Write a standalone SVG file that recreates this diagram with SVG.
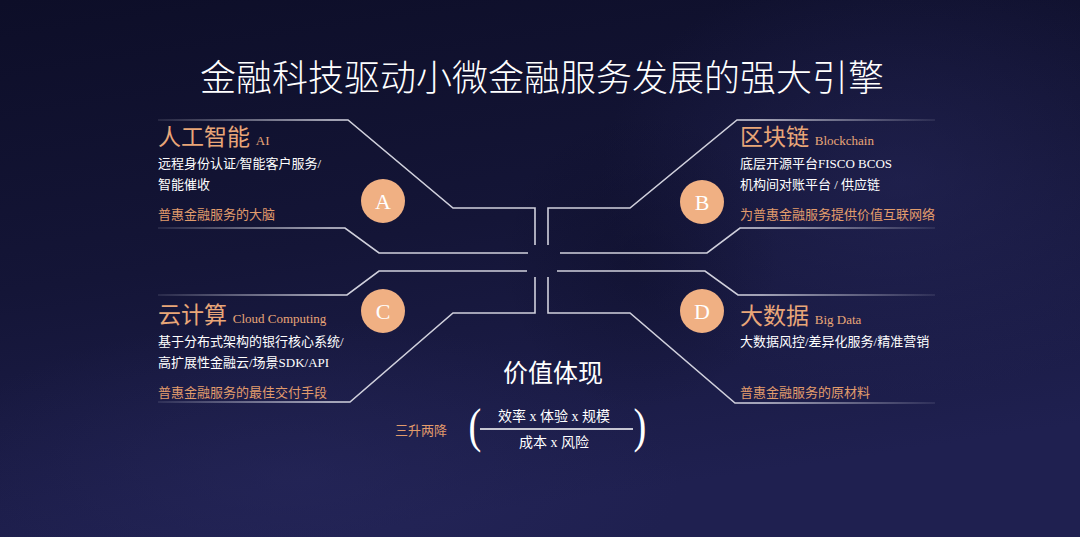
<svg xmlns="http://www.w3.org/2000/svg" width="1080" height="537" viewBox="0 0 1080 537">
  <defs>
    <linearGradient id="bg" x1="0" y1="0" x2="0.3" y2="1">
      <stop offset="0" stop-color="#0d0e28"/>
      <stop offset="0.5" stop-color="#141537"/>
      <stop offset="1" stop-color="#1f2050"/>
    </linearGradient>
    <radialGradient id="glow" cx="0.5" cy="0.5" r="0.5">
      <stop offset="0" stop-color="#2a2b62" stop-opacity="0.45"/>
      <stop offset="1" stop-color="#2a2b62" stop-opacity="0"/>
    </radialGradient>
    <radialGradient id="shade" cx="0.5" cy="0.5" r="0.5">
      <stop offset="0" stop-color="#0a0b22" stop-opacity="0.35"/>
      <stop offset="1" stop-color="#0a0b22" stop-opacity="0"/>
    </radialGradient>
    <linearGradient id="fadeL" gradientUnits="userSpaceOnUse" x1="150" y1="0" x2="330" y2="0">
      <stop offset="0" stop-color="#d0d0dc" stop-opacity="0.1"/>
      <stop offset="1" stop-color="#d0d0dc" stop-opacity="1"/>
    </linearGradient>
    <linearGradient id="fadeR" gradientUnits="userSpaceOnUse" x1="760" y1="0" x2="940" y2="0">
      <stop offset="0" stop-color="#d0d0dc" stop-opacity="1"/>
      <stop offset="1" stop-color="#d0d0dc" stop-opacity="0.1"/>
    </linearGradient>
    <style>
      .ln { fill: none; stroke-width: 1.6; }
      .circ { fill: #f0b083; }
      .letter { font-family: "Liberation Serif", serif; font-size: 22px; fill: #ffffff; text-anchor: middle; }
      .head { font-family: "Liberation Serif", "Noto Sans CJK SC", serif; font-size: 23px; fill: #e9a678; }
      .sub { font-size: 13px; }
      .body { font-family: "Liberation Serif", "Noto Sans CJK SC", serif; font-size: 13px; fill: #ffffff; }
      .org { font-family: "Liberation Serif", "Noto Sans CJK SC", serif; font-size: 13px; fill: #e29c6c; }
      .title { font-family: "Noto Sans CJK SC", sans-serif; font-size: 36px; fill: #ffffff; font-weight: 300; text-anchor: middle; }
      .white { font-family: "Liberation Serif", "Noto Sans CJK SC", serif; fill: #ffffff; }
    </style>
  </defs>

  <rect width="1080" height="537" fill="url(#bg)"/>
  <ellipse cx="900" cy="180" rx="300" ry="220" fill="url(#glow)"/>
  <ellipse cx="300" cy="480" rx="380" ry="160" fill="url(#glow)"/>
  <ellipse cx="640" cy="260" rx="140" ry="150" fill="url(#shade)"/>

  <text class="title" x="542" y="91">金融科技驱动小微金融服务发展的强大引擎</text>

  <g id="connectors">
    <path class="ln" stroke="url(#fadeL)" d="M158 120 H348 L453 208 H535 V245"/>
    <path class="ln" stroke="url(#fadeR)" d="M548 245 V208 H630 L737 120 H935"/>
    <path class="ln" stroke="url(#fadeL)" d="M158 228 H345 L379 253 H528"/>
    <path class="ln" stroke="url(#fadeR)" d="M560 253 H707 L740 228 H935"/>
    <path class="ln" stroke="url(#fadeL)" d="M527 271 H379 L347 295 H158"/>
    <path class="ln" stroke="url(#fadeR)" d="M557 271 H705 L738 295 H935"/>
    <path class="ln" stroke="url(#fadeL)" d="M535 277 V313 H453 L350 402 H158"/>
    <path class="ln" stroke="url(#fadeR)" d="M548 277 V313 H630 L735 403 H935"/>
  </g>

  <g id="node-a">
    <circle class="circ" cx="383" cy="201" r="22"/>
    <text class="letter" x="383" y="209">A</text>
    <text class="head" x="158" y="145">人工智能 <tspan class="sub">AI</tspan></text>
    <text class="body" x="158" y="168">远程身份认证/智能客户服务/</text>
    <text class="body" x="158" y="189">智能催收</text>
    <text class="org" x="158" y="219">普惠金融服务的大脑</text>
  </g>

  <g id="node-b">
    <circle class="circ" cx="702" cy="202" r="22"/>
    <text class="letter" x="702" y="210">B</text>
    <text class="head" x="740" y="145">区块链 <tspan class="sub">Blockchain</tspan></text>
    <text class="body" x="740" y="168">底层开源平台FISCO BCOS</text>
    <text class="body" x="740" y="189">机构间对账平台 / 供应链</text>
    <text class="org" x="740" y="219">为普惠金融服务提供价值互联网络</text>
  </g>

  <g id="node-c">
    <circle class="circ" cx="383" cy="311" r="22"/>
    <text class="letter" x="383" y="319">C</text>
    <text class="head" x="158" y="323">云计算 <tspan class="sub">Cloud Computing</tspan></text>
    <text class="body" x="158" y="346">基于分布式架构的银行核心系统/</text>
    <text class="body" x="158" y="367">高扩展性金融云/场景SDK/API</text>
    <text class="org" x="158" y="397">普惠金融服务的最佳交付手段</text>
  </g>

  <g id="node-d">
    <circle class="circ" cx="702" cy="311" r="22"/>
    <text class="letter" x="702" y="319">D</text>
    <text class="head" x="740" y="324">大数据 <tspan class="sub">Big Data</tspan></text>
    <text class="body" x="740" y="346">大数据风控/差异化服务/精准营销</text>
    <text class="org" x="740" y="397">普惠金融服务的原材料</text>
  </g>

  <g id="value">
    <text class="white" x="553" y="382" font-size="25" text-anchor="middle">价值体现</text>
    <text class="org" x="395" y="435" font-size="15">三升两降</text>
    <text class="white" x="475" y="442" font-size="48" text-anchor="middle" transform="translate(475 0) scale(0.8 1) translate(-475 0)">(</text>
    <text class="white" x="640" y="442" font-size="48" text-anchor="middle" transform="translate(640 0) scale(0.8 1) translate(-640 0)">)</text>
    <text class="white" x="554" y="421" font-size="14" text-anchor="middle">效率 x 体验 x 规模</text>
    <line x1="480" y1="429" x2="633" y2="429" stroke="#ffffff" stroke-width="1.3"/>
    <text class="white" x="554" y="447" font-size="14" text-anchor="middle">成本 x 风险</text>
  </g>
</svg>
